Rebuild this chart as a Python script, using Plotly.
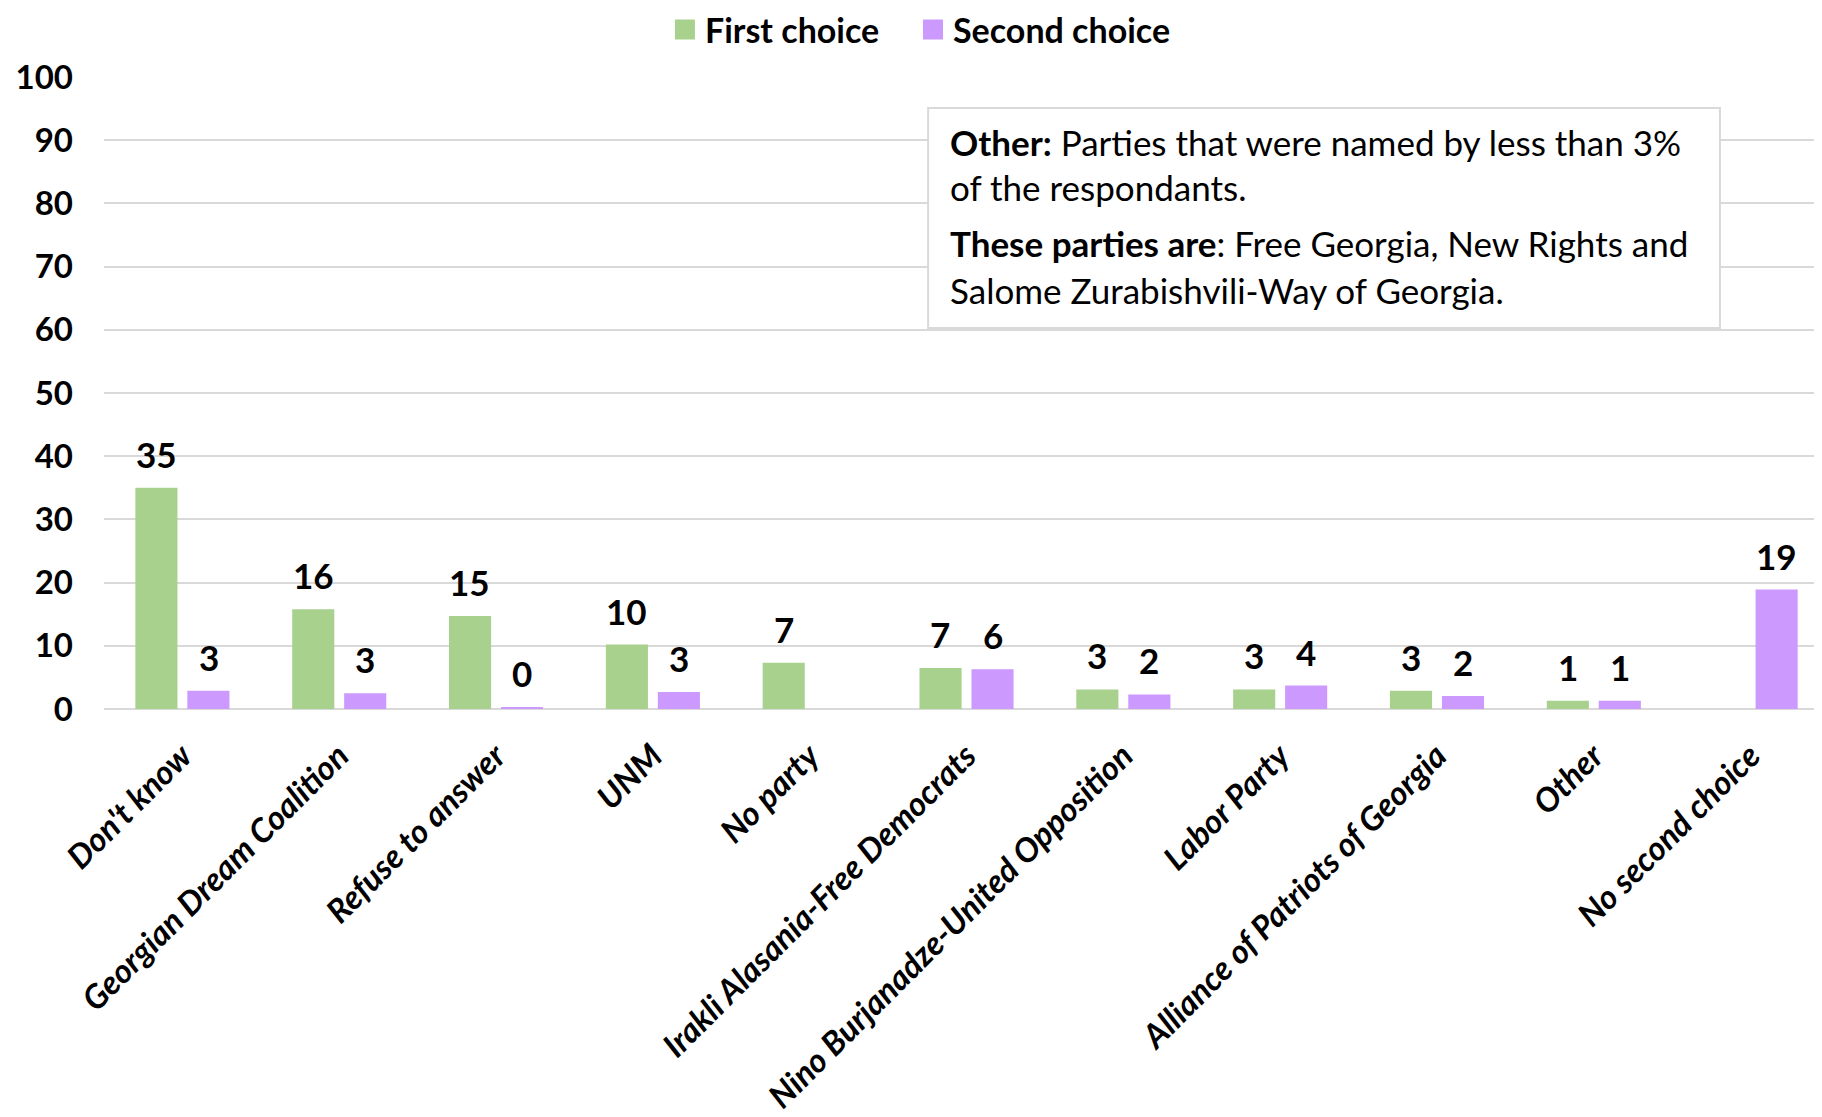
import plotly.graph_objects as go

categories = ["Don't know", "Georgian Dream Coalition", "Refuse to answer", "UNM", "No party",
              "Irakli Alasania-Free Democrats", "Nino Burjanadze-United Opposition", "Labor Party",
              "Alliance of Patriots of Georgia", "Other", "No second choice"]
first_choice = [35.0, 15.8, 14.7, 10.2, 7.3, 6.5, 3.1, 3.1, 2.9, 1.3, None]
second_choice = [2.9, 2.5, 0.3, 2.7, None, 6.3, 2.3, 3.7, 2.05, 1.3, 18.9]
first_labels = ["35", "16", "15", "10", "7", "7", "3", "3", "3", "1", ""]
second_labels = ["3", "3", "0", "3", "", "6", "2", "4", "2", "1", "19"]
y_ticks = [0, 10, 20, 30, 40, 50, 60, 70, 80, 90, 100]

GREEN = "#A9D18E"
PURPLE = "#CC99FF"
FONT = "Lato"

fig = go.Figure()
fig.add_trace(go.Bar(name="First choice", x=categories, y=first_choice, marker_color=GREEN,
                     marker_line_width=0, hoverinfo="skip", showlegend=False))
fig.add_trace(go.Bar(name="Second choice", x=categories, y=second_choice, marker_color=PURPLE,
                     marker_line_width=0, hoverinfo="skip", showlegend=False))
# legend entries with larger square swatches
fig.add_trace(go.Scatter(name="First choice", x=[None], y=[None], mode="markers",
                         marker=dict(symbol="square", size=16, color=GREEN,
                                     line=dict(color=GREEN, width=4)), showlegend=True,
                         legend="legend"))
fig.add_trace(go.Scatter(name="Second choice", x=[None], y=[None], mode="markers",
                         marker=dict(symbol="square", size=16, color=PURPLE,
                                     line=dict(color=PURPLE, width=4)), showlegend=True,
                         legend="legend2"))

annotations = []
for cat, v, t in zip(categories, first_choice, first_labels):
    if v is not None and t:
        annotations.append(dict(x=cat, y=v, xref="x", yref="y", text=t, showarrow=False,
                                xshift=-26.1, yanchor="bottom", yshift=11,
                                font=dict(family=FONT, size=35, color="black", weight="bold")))
for cat, v, t in zip(categories, second_choice, second_labels):
    if v is not None and t:
        annotations.append(dict(x=cat, y=v, xref="x", yref="y", text=t, showarrow=False,
                                xshift=26.1, yanchor="bottom", yshift=11,
                                font=dict(family=FONT, size=35, color="black", weight="bold")))

note_lines = [
    ("<b>Other:</b> Parties that were named by less than 3%", 0.897),
    ("of the respondants.", 0.826),
    ("<b>These parties are</b>: Free Georgia, New Rights and", 0.737),
    ("Salome Zurabishvili-Way of Georgia.", 0.663),
]
for txt, yy in note_lines:
    annotations.append(dict(x=0.4914, y=yy, xref="paper", yref="paper", text=txt, showarrow=False,
                            xanchor="left", yanchor="middle",
                            font=dict(family=FONT, size=35, color="black")))

legend_style = dict(orientation="h", xanchor="left", y=1.0744, yanchor="middle",
                    font=dict(family=FONT, size=34, color="black", weight="bold"),
                    bgcolor="rgba(0,0,0,0)", itemwidth=30)

fig.update_layout(
    width=1814, height=1109,
    margin=dict(l=96, r=0, t=69, b=408, autoexpand=False),
    paper_bgcolor="white", plot_bgcolor="white",
    barmode="group", bargap=0.337, bargroupgap=0.19,
    font=dict(family=FONT, color="black"),
    showlegend=True,
    legend=dict(x=0.3265, **legend_style),
    legend2=dict(x=0.4709, **legend_style),
    annotations=annotations,
    shapes=[dict(type="rect", xref="paper", yref="paper", x0=0.4797, x1=0.9406, y0=0.6028, y1=0.951,
                 line=dict(color="#D9D9D9", width=2), fillcolor="white", layer="above")],
    xaxis=dict(range=[-0.5, 10.455], tickangle=-45, showgrid=False, zeroline=False, automargin=False,
               showline=False, ticks="", ticklabelstandoff=20,
               tickfont=dict(family=FONT, size=33, color="black", weight="bold", style="italic")),
    yaxis=dict(range=[0, 100], tickvals=y_ticks, showgrid=True, gridcolor="#D9D9D9", gridwidth=1.5,
               zeroline=True, zerolinecolor="#D9D9D9", zerolinewidth=1.5, showline=False, ticks="",
               ticklabelstandoff=30, automargin=False,
               tickfont=dict(family=FONT, size=33, color="black", weight="bold")),
)

fig.write_html("out.html")
